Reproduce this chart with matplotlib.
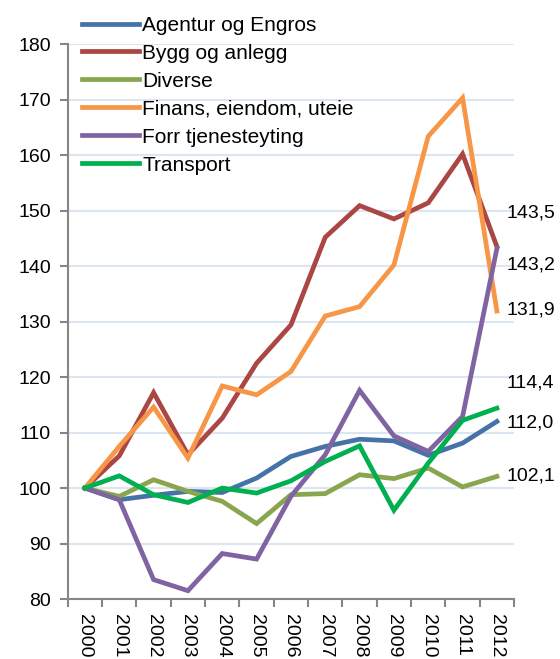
import matplotlib.pyplot as plt
import numpy as np

plt.rcParams['font.family'] = ['Liberation Sans', 'DejaVu Sans']

years = ['2000', '2001', '2002', '2003', '2004', '2005', '2006',
         '2007', '2008', '2009', '2010', '2011', '2012']

agentur = [100, 97.9, 98.7, 99.4, 99.2, 101.8, 105.7, 107.5, 108.8, 108.5, 105.9, 108.1, 112.0]
bygg = [100, 105.8, 117.2, 106.0, 112.6, 122.5, 129.4, 145.2, 150.9, 148.5, 151.4, 160.2, 143.5]
diverse = [100, 98.5, 101.5, 99.4, 97.6, 93.6, 98.8, 99.0, 102.4, 101.7, 103.6, 100.2, 102.1]
finans = [100, 107.5, 114.6, 105.4, 118.4, 116.8, 121.0, 131.0, 132.7, 140.2, 163.4, 170.3, 131.9]
forr = [100, 97.9, 83.5, 81.5, 88.2, 87.2, 98.5, 106.0, 117.6, 109.4, 106.6, 112.9, 143.2]
transport = [100, 102.2, 98.8, 97.4, 100.0, 99.1, 101.3, 104.8, 107.6, 96.0, 104.5, 112.2, 114.4]

names = ['Agentur og Engros', 'Bygg og anlegg', 'Diverse',
         'Finans, eiendom, uteie', 'Forr tjenesteyting', 'Transport']
series = [agentur, bygg, diverse, finans, forr, transport]
colors = ['#4572a7', '#aa4643', '#89a54e', '#f79646', '#8064a2', '#00b050']

end_labels = ['143,5', '143,2', '131,9', '114,4', '112,0', '102,1']
label_y = [149.6, 140.2, 132.0, 119.0, 111.8, 102.2]

fig = plt.figure(figsize=(5.6, 6.59), dpi=100)
ax = fig.add_axes([0.121, 0.091, 0.797, 0.842])

x = np.arange(len(years))
for name, vals, c in zip(names, series, colors):
    ax.plot(x, vals, color=c, lw=3.4, label=name, solid_joinstyle='miter')

ax.set_ylim(80, 180)
ax.set_yticks(np.arange(80, 181, 10))
ax.set_xlim(-0.5, len(years) - 0.5)
ax.set_xticks(x)
ax.set_xticklabels(years, rotation=-90, fontsize=14)
ax.set_xticks(np.arange(-0.5, len(years), 1), minor=True)
ax.tick_params(axis='x', which='major', length=0, pad=11)
ax.tick_params(axis='x', which='minor', length=6, width=1.5, color='#868686', direction='out')
ax.tick_params(axis='y', length=6, width=1.5, color='#868686', direction='out', labelsize=14, pad=6)

ax.grid(axis='y', color='#dce6f2', lw=1.5)
ax.set_axisbelow(True)
for s in ['top', 'right']:
    ax.spines[s].set_visible(False)
for s in ['left', 'bottom']:
    ax.spines[s].set_color('#868686')
    ax.spines[s].set_linewidth(1.5)

for txt, ly in zip(end_labels, label_y):
    ax.text(len(years) - 0.72, ly, txt, fontsize=14, va='center', ha='left',
            clip_on=False)

ax.legend(loc='upper left', bbox_to_anchor=(0.146, 0.976), bbox_transform=fig.transFigure,
          frameon=False, fontsize=15, handlelength=2.75, labelspacing=0.43,
          handletextpad=0.15, borderaxespad=0, borderpad=0)

fig.savefig('out.png', dpi=100)
